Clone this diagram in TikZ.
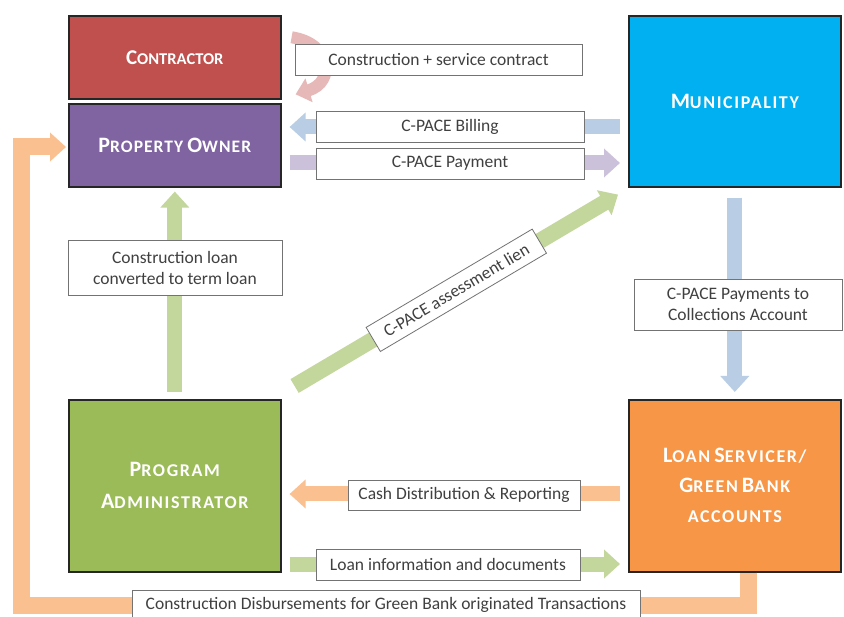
\documentclass[tikz,border=0pt]{standalone}
\usepackage{fontspec}
\setmainfont{Carlito}
\usetikzlibrary{arrows.meta,calc}

\definecolor{ctrred}{HTML}{C0504D}
\definecolor{ownerpurple}{HTML}{8064A2}
\definecolor{munblue}{HTML}{00B0F0}
\definecolor{admgreen}{HTML}{9BBB59}
\definecolor{svcorange}{HTML}{F79646}
\definecolor{lightblue}{HTML}{B9CDE5}
\definecolor{lightpurple}{HTML}{CCC1DA}
\definecolor{lightgreen}{HTML}{C3D69B}
\definecolor{lightorange}{HTML}{FAC090}
\definecolor{lightred}{HTML}{E6B9B8}
\definecolor{labeltext}{HTML}{404040}

% fake small capitals: first letter large, rest small
\def\capbig{22}\def\capsmall{18}\def\captrack{9}
\newcommand{\sccap}[2]{{\fontsize{\capbig}{32}\selectfont\addfontfeature{LetterSpace=\captrack}#1}{\fontsize{\capsmall}{32}\selectfont\addfontfeature{LetterSpace=\captrack}#2}}

\tikzset{
  party/.style={draw=black!85, line width=1.6pt, minimum width=212, text=white,
    font=\fontsize{18}{32}\selectfont\bfseries, align=center, inner sep=0pt, anchor=north west},
  lbl/.style={draw=black!55, line width=0.8pt, fill=white, text=labeltext,
    font=\fontsize{17.5}{21}\selectfont, align=center, inner sep=0pt, minimum height=31},
  fatarrow/.style={line width=15pt, -{Triangle[width=28pt,length=16pt]}}
}

\begin{document}
\begin{tikzpicture}[x=1pt,y=-1pt]
    \fill[white] (0,0) rectangle (844,617);
    \useasboundingbox (0,0) rectangle (844,617);

    % the parties
    \node[party, fill=ctrred, minimum height=83] (ctr) at (68,15)
        {\def\capbig{21}\def\capsmall{16.5}\def\captrack{0}\sccap{C}{ONTRACTOR}};
    \node[party, fill=ownerpurple, minimum height=83] (po) at (68,103)
        {\def\capsmall{17.5}\def\captrack{6}\sccap{P}{ROPERTY} \sccap{O}{WNER}};
    \node[party, fill=munblue, minimum height=171] (muni) at (628,15) {\sccap{M}{UNICIPALITY}};
    \node[party, fill=admgreen, minimum height=172] (pa) at (68,399) {\sccap{P}{ROGRAM}\\\sccap{A}{DMINISTRATOR}};
    \node[party, fill=svcorange, minimum height=172] (ls) at (628,399)
        {\sccap{L}{OAN} \sccap{S}{ERVICER/}\\[-2pt]\sccap{G}{REEN} \sccap{B}{ANK}\\[-2pt]\sccap{}{ACCOUNTS}};

    % flows
    \draw[lightred, line width=12pt, -{Triangle[width=24pt,length=14pt]}]
        ([shift={(10,-20)}]ctr.east) .. controls +(40,6) and +(40,-12) .. ([shift={(14,-51)}]po.east);
    \draw[fatarrow, lightblue, shorten <=8pt, shorten >=8pt] (muni.west |- 0,127) -- (po.east |- 0,127);
    \draw[fatarrow, lightpurple, shorten <=8pt, shorten >=8pt] (po.east |- 0,163) -- (muni.west |- 0,163);
    \draw[fatarrow, lightgreen, shorten <=7pt, shorten >=4pt] (pa.north) -- (po.south);
    \draw[fatarrow, lightblue, shorten <=10pt, shorten >=7pt] (muni.south) -- (ls.north);
    \draw[fatarrow, lightorange, shorten <=8pt, shorten >=8pt] (ls.west |- 0,494) -- (pa.east |- 0,494);
    \draw[fatarrow, lightgreen, shorten <=8pt, shorten >=8pt] (pa.east |- 0,564) -- (ls.west |- 0,564);
    \draw[fatarrow, lightgreen, line width=16pt]
        ([shift={(13,-13)}]pa.north east) --
        node[lbl, sloped, minimum width=193, minimum height=28] (lien) {C-PACE assessment lien}
        ([shift={(-10,7)}]muni.south west);
    \draw[fatarrow, lightorange, line width=17pt, shorten >=2pt]
        ([xshift=14pt]ls.south) -- ++(0,33) -| (21,147) -- (po.west |- 0,147);

    % labels
    \node[lbl, minimum width=287] (contract) at (438.5,59.5) {Construction + service contract};
    \node[lbl, minimum width=268] (billing) at (450,126.5) {C-PACE Billing};
    \node[lbl, minimum width=268] (payment) at (450,163.5) {C-PACE Payment};
    \node[lbl, minimum width=214, minimum height=55] (termloan) at (175,267.5) {Construction loan\\converted to term loan};
    \node[lbl, minimum width=208, minimum height=51] (collect) at (738,304.5) {C-PACE Payments to\\Collections Account};
    \node[lbl, minimum width=232, minimum height=30] (cash) at (464,495) {Cash Distribution \& Reporting};
    \node[lbl, minimum width=264] (loaninfo) at (448,564.5) {Loan information and documents};
    \node[lbl, minimum width=508, minimum height=30] (disburse) at (386,605) {Construction Disbursements for Green Bank originated Transactions};

\end{tikzpicture}
\end{document}
